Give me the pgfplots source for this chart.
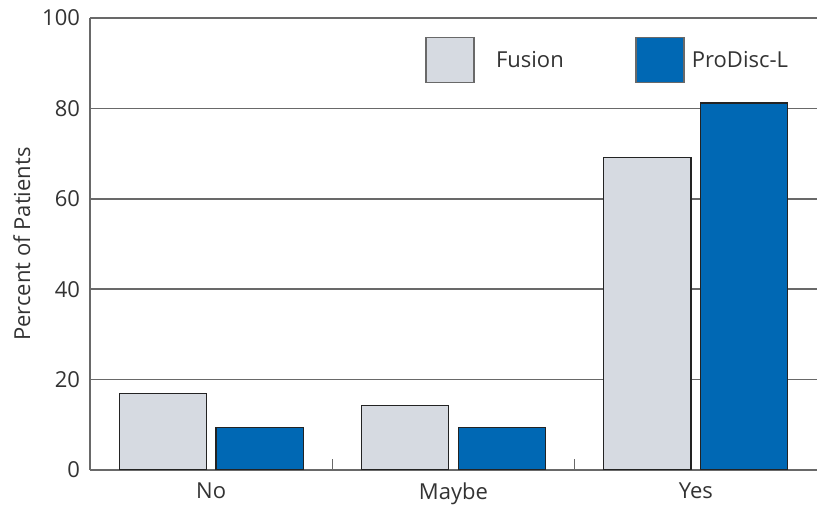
\documentclass[border=0pt]{standalone}
\usepackage{pgfplots}
\pgfplotsset{compat=1.18}
\usepackage{fontspec}
\setmainfont{Open Sans}
\definecolor{fus}{RGB}{214,218,225}
\definecolor{pro}{RGB}{0,104,180}
\definecolor{txt}{RGB}{51,51,51}
\definecolor{ln}{RGB}{105,105,105}
\definecolor{edge}{RGB}{35,35,35}
\begin{document}
\begin{tikzpicture}
\begin{axis}[
  at={(0,0)}, anchor=south west,
  scale only axis, width=545.25pt, height=339pt,
  xmin=-0.5, xmax=2.5, ymin=0, ymax=100,
  axis x line*=bottom, axis y line*=left,
  axis line style={draw=ln, line width=1.1pt},
  ymajorgrids, grid style={draw=ln, line width=1.1pt},
  ytick={0,20,...,100},
  ytick style={draw=none},
  xtick={0,1,2}, xticklabels={No,Maybe,Yes},
  minor xtick={0.5,1.5},
  xtick style={draw=ln, line width=1.1pt},
  minor x tick style={yshift=8.25pt},
  major tick length=0pt, minor tick length=8.25pt,
  /pgf/number format/assume math mode=true,
  tick label style={font=\fontsize{16.5}{19}\selectfont, text=txt},
  yticklabel style={xshift=-4pt},
  xticklabel style={yshift=-6pt},
  ylabel={Percent of Patients},
  ylabel style={font=\fontsize{16.5}{19}\selectfont, text=txt, yshift=2pt},
  ybar, bar width=0.36,
  legend style={draw=none, fill=none, at={(0.4608,0.907)}, anchor=west, legend columns=2,
    font=\fontsize{16.5}{19}\selectfont, text=txt, inner sep=0pt,
    /tikz/every odd column/.append style={column sep=14pt},
    /tikz/every even column/.append style={column sep=51.5pt}},
  legend image code/.code={\draw[#1,draw=ln,line width=1.1pt] (0pt,-16.9pt) rectangle (36pt,16.9pt);},
]
\addplot[fill=fus, draw=edge, line width=0.8pt, bar shift=-0.2] coordinates {(0,17) (1,14.2) (2,69.2)};
\addplot[fill=pro, draw=edge, line width=0.8pt, bar shift=0.2] coordinates {(0,9.5) (1,9.5) (2,81.2)};
\legend{Fusion,\hspace*{-10.5pt}ProDisc-L}
\end{axis}
\pgfresetboundingbox
\path[use as bounding box] (-67.5pt,-29.25pt) rectangle (545.25pt,352.5pt);
\end{tikzpicture}
\end{document}
